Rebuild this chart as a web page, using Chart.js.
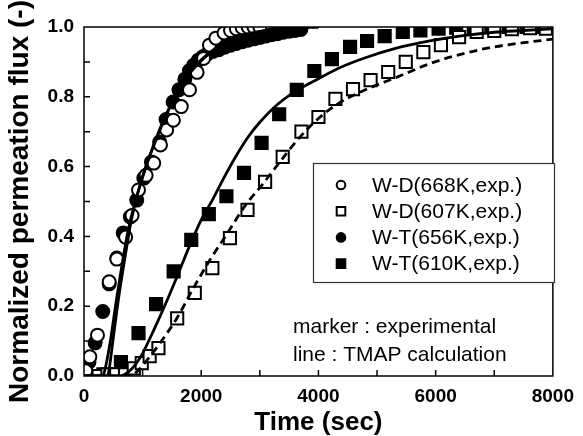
<!DOCTYPE html>
<html>
<head>
<meta charset="utf-8">
<script src="https://cdn.jsdelivr.net/npm/chart.js@4.4.1/dist/chart.umd.min.js"></script>
<style>
  html, body { margin:0; padding:0; background:#fff; }
  #wrap { width:583px; height:436px; }
</style>
</head>
<body>
<div id="wrap"><canvas id="chart" width="583" height="436"></canvas></div>
<script>
// experimental markers
const wd668X = [30, 100, 230, 430, 560, 710, 820, 930, 1060, 1190, 1305, 1410, 1525, 1660, 1800, 1930, 2040, 2140, 2250, 2390, 2500, 2600, 2700, 2800, 2900, 3000];
const wd668Y = [0.015, 0.055, 0.117, 0.27, 0.335, 0.398, 0.46, 0.533, 0.575, 0.61, 0.662, 0.705, 0.733, 0.772, 0.82, 0.87, 0.91, 0.948, 0.968, 0.983, 0.99, 0.995, 0.998, 1.0, 1.0, 1.0];

const wd607X = [100, 250, 400, 550, 700, 850, 985, 1120, 1270, 1590, 1890, 2190, 2490, 2790, 3090, 3390, 3710, 4000, 4290, 4590, 4890, 5190, 5490, 5790, 6090, 6400, 6700, 7000, 7300, 7610, 7880];
const wd607Y = [0, 0, 0.005, 0.005, 0.005, 0.022, 0.037, 0.057, 0.08, 0.165, 0.238, 0.309, 0.395, 0.476, 0.556, 0.628, 0.70, 0.742, 0.794, 0.822, 0.848, 0.871, 0.90, 0.928, 0.948, 0.971, 0.986, 0.989, 0.994, 0.997, 0.995];

const wt656X = [20, 85, 190, 320, 430, 560, 670, 790, 900, 1020, 1150, 1290, 1400, 1520, 1620, 1720, 1800, 1870, 1950, 2030, 2100, 2200, 2300, 2400, 2500, 2600, 2700, 2800, 2900, 3000, 3100, 3200, 3300, 3400, 3500, 3600, 3700];
const wt656Y = [0.02, 0.04, 0.095, 0.185, 0.264, 0.338, 0.41, 0.456, 0.504, 0.567, 0.613, 0.67, 0.735, 0.785, 0.82, 0.85, 0.875, 0.89, 0.905, 0.915, 0.922, 0.93, 0.935, 0.942, 0.948, 0.953, 0.958, 0.962, 0.966, 0.97, 0.974, 0.978, 0.981, 0.985, 0.988, 0.99, 0.993];

const wt610X = [30, 330, 630, 930, 1230, 1530, 1830, 2130, 2430, 2730, 3030, 3330, 3630, 3930, 4230, 4540, 4830, 5130, 5440, 5740, 6050, 6350, 6650, 6950, 7250, 7550, 7850];
const wt610Y = [0.003, 0.005, 0.04, 0.123, 0.206, 0.30, 0.39, 0.464, 0.515, 0.582, 0.668, 0.75, 0.82, 0.874, 0.908, 0.943, 0.96, 0.974, 0.986, 0.99, 0.995, 0.998, 1.0, 1.0, 1.0, 1.0, 1.0];

// TMAP calculation curves
const calc668X = [0, 400, 430, 500, 600, 700, 800, 900, 1000, 1100, 1200, 1300, 1400, 1500, 1600, 1800, 2000, 2200, 2400, 2600, 2800, 3000, 3300, 3600, 4000];
const calc668Y = [0, 0, 0.02, 0.11, 0.235, 0.34, 0.44, 0.512, 0.572, 0.622, 0.665, 0.707, 0.746, 0.782, 0.812, 0.866, 0.903, 0.932, 0.953, 0.968, 0.979, 0.987, 0.994, 0.998, 1.0];
const calc656X = [0, 320, 360, 450, 550, 650, 750, 850, 1000, 1200, 1400, 1600, 1800, 2000, 2400, 2800, 3200, 3600, 4000];
const calc656Y = [0, 0, 0.02, 0.1, 0.215, 0.32, 0.415, 0.485, 0.57, 0.667, 0.749, 0.815, 0.87, 0.906, 0.955, 0.98, 0.992, 0.998, 1.0];
const calc610X = [0, 600, 700, 800, 900, 1000, 1200, 1400, 1600, 1800, 2000, 2200, 2400, 2600, 2800, 3000, 3300, 3600, 4000, 4400, 4800, 5300, 5900, 6500, 7000, 7500, 8000];
const calc610Y = [0, 0, 0.005, 0.018, 0.038, 0.065, 0.135, 0.21, 0.29, 0.372, 0.447, 0.507, 0.572, 0.632, 0.685, 0.727, 0.778, 0.815, 0.852, 0.886, 0.912, 0.938, 0.96, 0.976, 0.985, 0.99, 0.995];
const calc607X = [0, 800, 900, 1000, 1300, 1600, 1850, 2150, 2450, 2750, 3050, 3350, 3650, 4000, 4350, 4800, 5350, 5900, 6500, 7000, 7500, 8000];
const calc607Y = [0, 0, 0.012, 0.03, 0.095, 0.17, 0.247, 0.333, 0.41, 0.488, 0.55, 0.615, 0.678, 0.738, 0.782, 0.82, 0.857, 0.895, 0.925, 0.943, 0.955, 0.965];

// axis ticks
const xLabelTicks = [0, 2000, 4000, 6000, 8000];
const xMarkTicks = [1000, 2000, 3000, 4000, 5000, 6000, 7000];
const yLabelTicks = [0, 0.2, 0.4, 0.6, 0.8, 1.0];
const yMarkTicks = [0.1, 0.2, 0.3, 0.4, 0.5, 0.6, 0.7, 0.8, 0.9];

const FONT = '"Liberation Sans", Arial, sans-serif';
const pts = (xs, ys) => xs.map((x, i) => ({x, y: ys[i]}));

function markerSet(label, xs, ys, style, filled){
  return {
    label, data: pts(xs, ys), showLine:false, order:1, clip:0,
    pointStyle: style, pointRadius: style==='circle' ? 6.5 : 8.6,
    pointBorderWidth: 2, pointBorderColor:'#000',
    pointBackgroundColor: filled ? '#000' : '#fff',
    pointHoverRadius: 0, isMarker:true, filled
  };
}
function calcSet(xs, ys, dash){
  return {
    label:'', data: pts(xs, ys), showLine:true, order:0, clip:0,
    borderColor:'#000', borderWidth:2.8, borderDash: dash || [],
    pointRadius:0, cubicInterpolationMode:'monotone', fill:false
  };
}

// frame, inward ticks, legend box and note
const decor = {
  id:'decor',
  afterDraw(chart){
    const {ctx, chartArea:a, scales:{x, y}} = chart;
    ctx.save();
    ctx.strokeStyle = '#000'; ctx.lineWidth = 1.5;
    ctx.beginPath();
    xMarkTicks.forEach(v => { const px = x.getPixelForValue(v); ctx.moveTo(px, a.bottom); ctx.lineTo(px, a.bottom - 6); });
    yMarkTicks.forEach(v => { const py = y.getPixelForValue(v); ctx.moveTo(a.left, py); ctx.lineTo(a.left + 6, py); });
    ctx.stroke();
    ctx.strokeRect(a.left, a.top, a.right - a.left, a.bottom - a.top);

    // legend
    const lx = 313, ly = 163, lw = 241, lh = 119;
    ctx.fillStyle = '#fff'; ctx.fillRect(lx, ly, lw, lh);
    ctx.strokeStyle = '#333'; ctx.lineWidth = 1.2; ctx.strokeRect(lx + 0.5, ly + 0.5, lw, lh);
    ctx.font = '21px ' + FONT; ctx.textBaseline = 'middle'; ctx.textAlign = 'left';
    chart.data.datasets.filter(d => d.isMarker).forEach((d, i) => {
      const cy = ly + 22 + i * 26.2, cx = lx + 28;
      ctx.lineWidth = 2; ctx.strokeStyle = '#000'; ctx.fillStyle = d.filled ? '#000' : '#fff';
      ctx.beginPath();
      if (d.pointStyle === 'circle') ctx.arc(cx, cy, 4.3, 0, Math.PI * 2);
      else ctx.rect(cx - 4.3, cy - 4.3, 8.6, 8.6);
      ctx.fill(); ctx.stroke();
      ctx.fillStyle = '#000';
      ctx.fillText(d.label, lx + 59, cy + 1);
    });

    ctx.fillText('marker : experimental', 293, 327);
    ctx.fillText('line : TMAP calculation', 293, 355);
    ctx.restore();
  }
};

new Chart(document.getElementById('chart'), {
  type:'scatter',
  data:{ datasets:[
    markerSet('W-D(668K,exp.)', wd668X, wd668Y, 'circle', false),
    markerSet('W-D(607K,exp.)', wd607X, wd607Y, 'rect', false),
    markerSet('W-T(656K,exp.)', wt656X, wt656Y, 'circle', true),
    markerSet('W-T(610K,exp.)', wt610X, wt610Y, 'rect', true),
    calcSet(calc668X, calc668Y),
    calcSet(calc656X, calc656Y),
    calcSet(calc610X, calc610Y),
    calcSet(calc607X, calc607Y, [8, 5])
  ]},
  options:{
    responsive:false, animation:false, events:[],
    layout:{ padding:{ top:27, right:27, left:0, bottom:0 } },
    plugins:{ legend:{display:false}, tooltip:{enabled:false} },
    scales:{
      x:{
        type:'linear', min:0, max:8000,
        afterBuildTicks: s => { s.ticks = xLabelTicks.map(v => ({value:v})); },
        afterFit: s => { s.height = 60; },
        grid:{display:false, drawTicks:false}, border:{display:false},
        ticks:{ padding:9, color:'#000', font:{family:FONT, size:19, weight:'bold'}, maxRotation:0, callback: v => String(v) },
        title:{ display:true, text:'Time (sec)', color:'#000', padding:{top:0, bottom:0},
                font:{family:FONT, size:26, weight:'bold', lineHeight:1} }
      },
      y:{
        type:'linear', min:0, max:1,
        afterBuildTicks: s => { s.ticks = yLabelTicks.map(v => ({value:v})); },
        afterFit: s => { s.width = 84; },
        grid:{display:false, drawTicks:false}, border:{display:false},
        ticks:{ padding:10, color:'#000', font:{family:FONT, size:19, weight:'bold'}, callback: v => v.toFixed(1) },
        title:{ display:true, text:'Normalized permeation flux (-)', color:'#000', padding:{top:6, bottom:0},
                font:{family:FONT, size:28, weight:'bold', lineHeight:1} }
      }
    }
  },
  plugins:[decor]
});
</script>
</body>
</html>
